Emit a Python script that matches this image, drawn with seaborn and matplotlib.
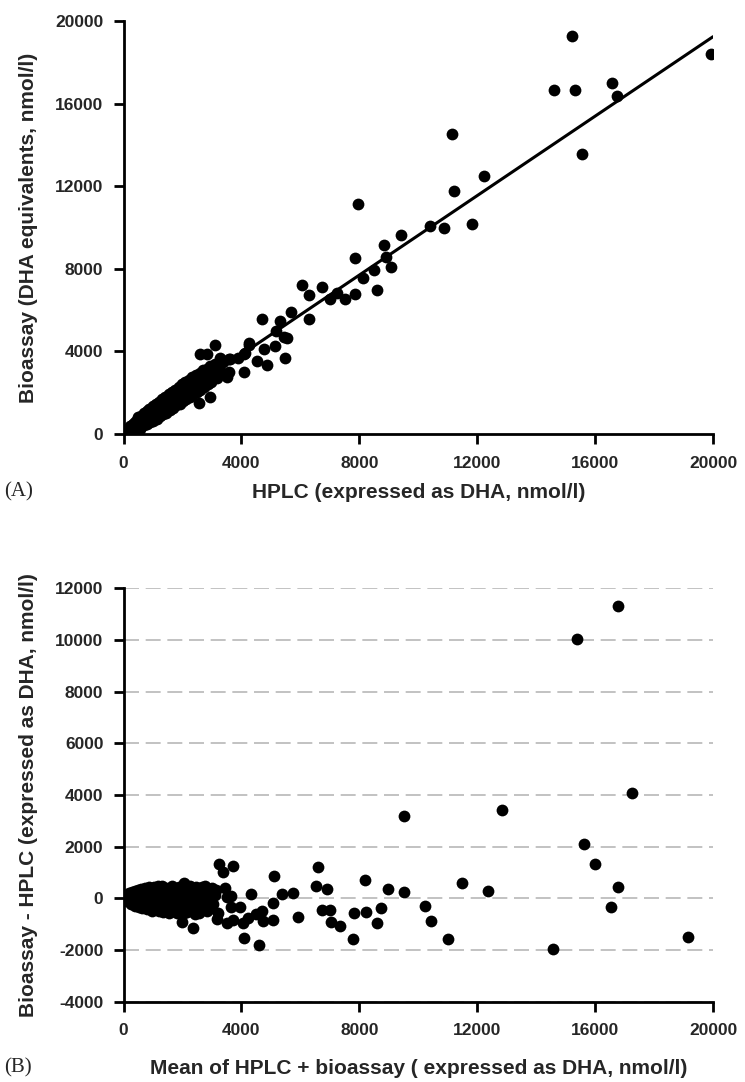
import matplotlib
matplotlib.use("Agg")
import matplotlib.pyplot as plt
import pandas as pd
import seaborn as sns

# ---------------- Panel A data: HPLC vs bioassay (nmol/l) ----------------
hplc = [40, 70, 95, 120, 150, 170, 200, 220, 250, 270, 300, 320, 350, 370, 400, 420, 450, 470,
        500, 520, 550, 570, 600, 620, 650, 680, 700, 730, 760, 780, 800, 830, 860, 880, 900, 930,
        960, 990, 1010, 1040, 1070, 1100, 1120, 1150, 1180, 1200, 1230, 1260, 1290, 1310, 1340,
        1370, 1400, 1420, 1450, 1480, 1510, 1540, 1560, 1590, 1620, 1650, 1670, 1700, 1730, 1760,
        1790, 1820, 1850, 1880, 1900, 1930, 1960, 1990, 2010, 2040, 2070, 2100, 2130, 2160, 2190,
        2220, 2250, 2280, 2310, 2340, 2370, 2400, 2430, 2460, 2490, 2520, 2550, 2580, 2610, 2640,
        2670, 2700, 2730, 2760, 2790, 2820, 2850, 2880, 2910, 2940, 2970, 3000, 3050, 3100, 3160,
        3220, 3300, 3380,
        3120, 2590, 2840, 2950, 2555, 3570, 3500, 3570, 3610, 3270, 3890, 4120, 4270, 4080, 4080,
        4540, 4755, 4250, 4870, 5130, 5492, 5548, 5176, 5430, 4712, 5322, 5695, 6305, 6055, 6305,
        6735, 6995, 7245, 7515, 7865, 8590, 8125, 9060, 8485, 8915, 7850, 8825, 9410, 7955, 10385,
        10880, 11810, 11210, 12240, 11140, 15560, 14590, 15330, 16580, 16730, 15230, 19920]
bioassay = [60, 150, 20, 230, 90, 300, 120, 380, 210, 60, 430, 250, 520, 140, 340, 640, 230, 510,
            800, 330, 620, 260, 880, 470, 700, 1000, 420, 820, 600, 1100, 490, 940, 710, 1230, 560, 1050,
            800, 1350, 650, 1180, 920, 1450, 740, 1280, 1010, 1560, 850, 1380, 1120, 1700, 960,
            1520, 1230, 1800, 1040, 1620, 1320, 1920, 1150, 1740, 1440, 2050, 1250, 1880, 1560, 2150,
            1380, 1990, 1680, 2290, 1470, 2100, 1790, 2400, 1590, 2220, 1900, 2510, 1700, 2330, 2020,
            2620, 1810, 2460, 2130, 2740, 1930, 2580, 2250, 2860, 2040, 2690, 2360, 2950, 2150, 2800,
            2480, 3080, 2270, 2900, 2600, 3170, 2400, 3010, 2700, 3280, 2500, 3130, 2820, 3380, 2700,
            3250, 3000, 3500,
            4310, 3890, 3890, 1780, 1485, 3615, 2775, 3020, 3615, 3665, 3665, 3905, 4310, 3860, 3020,
            3530, 4100, 4390, 3340, 4260, 3660, 4665, 4990, 4710, 5550, 5470, 5890, 5550, 7220, 6750,
            7100, 6540, 6810, 6550, 6800, 6970, 7570, 8100, 7940, 8560, 8540, 9170, 9620, 11140, 10090,
            9980, 10190, 11750, 12490, 14530, 13570, 16660, 16660, 16980, 16370, 19290, 18390]

# fitted regression line of panel A
fit_slope = 0.962
fit_intercept = 0.0
fit_x = [min(hplc), 20000]

# ---------------- Panel B data: Bland-Altman (mean, difference) ----------------
ba_mean = [30, 60, 80, 110, 140, 160, 190, 210, 240, 270, 300, 320, 350, 380, 400, 430, 460, 490,
           510, 540, 570, 600, 630, 650, 680, 710, 740, 760, 790, 820, 850, 880, 900, 930, 960, 990,
           1020, 1050, 1080, 1110, 1140, 1170, 1200, 1230, 1260, 1290, 1320, 1350, 1380, 1410, 1440,
           1470, 1500, 1530, 1560, 1590, 1620, 1650, 1680, 1710, 1740, 1770, 1800, 1830, 1860, 1890,
           1920, 1950, 1980, 2010, 2040, 2080, 2110, 2140, 2170, 2200, 2230, 2260, 2290, 2320, 2350,
           2390, 2420, 2450, 2480, 2510, 2550, 2580, 2620, 2650, 2690, 2720, 2760, 2800, 2840, 2880,
           2920, 2960, 3000, 3050, 3100,
           16780, 15380, 17250, 12840, 9530, 15620, 15990, 16760, 16525, 19140, 14560, 9530, 10230,
           10420, 11000, 11490, 12350, 8186, 8976, 7010, 7023, 7340, 7824, 8210, 8730, 8583, 7780,
           3250, 3700, 3385, 5110, 6600, 6515, 6890, 5756, 5383, 4322, 5057, 5080, 5925, 6750, 4705,
           4718, 4490, 4230, 4060, 4085, 4580, 3644, 3950, 3720, 3500, 3180, 3215, 3135, 3440, 3500,
           3630, 1970, 2345, 2050, 2763]
ba_diff = [20, -40, 60, -90, 130, -20, 200, -150, 80, -230, 240, -60, 150, -280, 300, 20, -200, 340,
           -330, 130, -120, 380, -380, 230, -40, -260, 420, 90, -420, 300, -160, 440, -320, 150, -470,
           380, -80, 450, -390, 220, -230, 470, -500, 100, 350, -300, 480, -520, 180, -140, 420, -420,
           280, -560, 60, 400, -330, 470, -500, 150, -200, 380, -580, 260, -400, 460, -100, 320, -480,
           200, -580, 420, -260, 80, -530, 350, -380, 470, -150, 280, -480, 120, -600, 430, -300, 200,
           -560, 370, -100, 450, -420, 250, -250, 380, -500, 100, 300, -380, 420, -200, 150,
           11310, 10060, 4070, 3410, 3200, 2095, 1340, 440, -340, -1510, -1955, 245, -300,
           -880, -1590, 580, 270, 700, 360, -455, -930, -1060, -570, -520, -375, -960, -1580,
           1330, 1250, 1030, 880, 1200, 480, 360, 220, 155, 167, -195, -855, -725, -430, -480,
           -868, -620, -740, -945, -1515, -1810, -325, -325, -840, -945, -815, -580, 320, 390, 60,
           90, -905, -1165, 605, 477]

ticks_a = [0, 4000, 8000, 12000, 16000, 20000]
xticks_b = [0, 4000, 8000, 12000, 16000, 20000]
yticks_b = [-4000, -2000, 0, 2000, 4000, 6000, 8000, 10000, 12000]

xlabel_a = "HPLC (expressed as DHA, nmol/l)"
ylabel_a = "Bioassay (DHA equivalents, nmol/l)"
xlabel_b = "Mean of HPLC + bioassay ( expressed as DHA, nmol/l)"
ylabel_b = "Bioassay - HPLC (expressed as DHA, nmol/l)"

sns.set_style("ticks")
plt.rcParams['font.family'] = ['Liberation Sans', 'DejaVu Sans']
plt.rcParams['font.weight'] = 'bold'
plt.rcParams['axes.labelweight'] = 'bold'
plt.rcParams['axes.unicode_minus'] = False

fig = plt.figure(figsize=(7.45, 10.82), dpi=100)
ax1 = fig.add_axes([0.1658, 0.5989, 0.7913, 0.3817])
ax2 = fig.add_axes([0.1658, 0.0742, 0.7913, 0.3819])

df_a = pd.DataFrame({"hplc": hplc, "bioassay": bioassay})
df_fit = pd.DataFrame({"x": fit_x})
df_fit["y"] = fit_intercept + fit_slope * df_fit["x"]
df_b = pd.DataFrame({"mean": ba_mean, "diff": ba_diff})

sns.scatterplot(data=df_a, x="hplc", y="bioassay", ax=ax1, color="black", s=72,
                linewidth=0, zorder=3)
sns.lineplot(data=df_fit, x="x", y="y", ax=ax1, color="black", lw=2.2, zorder=4)

sns.scatterplot(data=df_b, x="mean", y="diff", ax=ax2, color="black", s=72,
                linewidth=0, zorder=3)

for ax in (ax1, ax2):
    sns.despine(ax=ax)
    for sp in ("left", "bottom"):
        ax.spines[sp].set_linewidth(2.0)
        ax.spines[sp].set_color("black")
    ax.tick_params(axis="both", direction="out", length=7.5, width=2.0,
                   labelsize=12.5, color="black")
    ax.tick_params(axis="x", pad=8)
    ax.tick_params(axis="y", pad=7)

ax1.set_xlim(0, 20000)
ax1.set_ylim(0, 20000)
ax1.set_xticks(ticks_a)
ax1.set_yticks(ticks_a)
ax1.set_xlabel(xlabel_a, fontsize=15, labelpad=9)
ax1.set_ylabel(ylabel_a, fontsize=15, labelpad=12)

ax2.set_xlim(0, 20000)
ax2.set_ylim(-4000, 12000)
ax2.set_xticks(xticks_b)
ax2.set_yticks(yticks_b)
ax2.set_axisbelow(True)
ax2.yaxis.grid(True, color="#b8b8b8", linestyle=(0, (9, 4)), linewidth=1.2)
ax2.set_xlabel(xlabel_b, fontsize=15, labelpad=15)
ax2.set_ylabel(ylabel_b, fontsize=15, labelpad=12)

serif = ['Liberation Serif', 'DejaVu Serif']
fig.text(0.006, 1 - 492 / 1082, "(A)", family=serif, fontweight="normal",
         fontsize=15, va="center", ha="left")
fig.text(0.006, 1 - 1068 / 1082, "(B)", family=serif, fontweight="normal",
         fontsize=15, va="center", ha="left")

fig.savefig("out.png", dpi=100)
